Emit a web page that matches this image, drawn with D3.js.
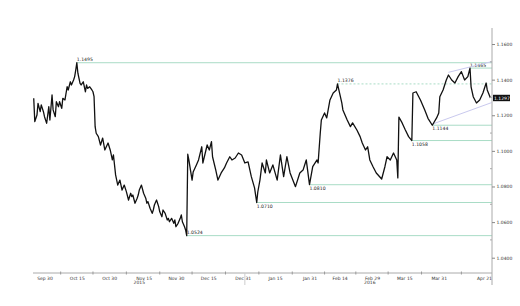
<!DOCTYPE html>
<html><head><meta charset="utf-8">
<script src="https://cdn.jsdelivr.net/npm/d3@7"></script>
<style>html,body{margin:0;padding:0;background:#fff;}svg{display:block;}</style>
</head><body>
<svg id="c" width="520" height="306"></svg>
<script>
const times = ["2015-09-25 00","2015-09-25 12","2015-09-26 12","2015-09-27 00","2015-09-28 00","2015-09-28 12","2015-09-29 12","2015-09-30 00","2015-10-01 00","2015-10-02 00","2015-10-02 12","2015-10-03 12","2015-10-04 00","2015-10-05 00","2015-10-05 12","2015-10-06 12","2015-10-07 00","2015-10-08 00","2015-10-08 12","2015-10-09 12","2015-10-10 12","2015-10-11 00","2015-10-12 00","2015-10-12 12","2015-10-13 12","2015-10-14 00","2015-10-14 12","2015-10-15 00","2015-10-15 12","2015-10-16 12","2015-10-17 00","2015-10-18 00","2015-10-19 00","2015-10-19 12","2015-10-20 00","2015-10-21 00","2015-10-22 00","2015-10-22 12","2015-10-23 00","2015-10-23 12","2015-10-24 00","2015-10-25 00","2015-10-26 00","2015-10-27 00","2015-10-28 00","2015-10-29 12","2015-10-30 12","2015-10-31 12","2015-11-01 00","2015-11-02 00","2015-11-03 00","2015-11-04 00","2015-11-05 00","2015-11-06 00","2015-11-07 00","2015-11-08 00","2015-11-09 00","2015-11-09 12","2015-11-10 00","2015-11-11 00","2015-11-12 00","2015-11-12 12","2015-11-13 00","2015-11-14 00","2015-11-15 00","2015-11-16 00","2015-11-16 12","2015-11-17 00","2015-11-18 00","2015-11-19 00","2015-11-19 12","2015-11-20 00","2015-11-21 00","2015-11-22 00","2015-11-22 12","2015-11-23 12","2015-11-24 00","2015-11-25 00","2015-11-26 00","2015-11-26 12","2015-11-27 00","2015-11-28 00","2015-11-29 00","2015-11-29 12","2015-11-30 00","2015-12-01 00","2015-12-02 00","2015-12-02 12","2015-12-03 00","2015-12-04 00","2015-12-04 12","2015-12-05 00","2015-12-05 12","2015-12-06 00","2015-12-07 12","2015-12-08 00","2015-12-09 12","2015-12-10 12","2015-12-12 00","2015-12-12 12","2015-12-14 12","2015-12-15 12","2015-12-16 12","2015-12-17 00","2015-12-18 12","2015-12-19 12","2015-12-21 00","2015-12-22 12","2015-12-23 12","2015-12-25 00","2015-12-26 00","2015-12-27 12","2015-12-29 00","2015-12-30 12","2016-01-01 00","2016-01-02 12","2016-01-04 00","2016-01-05 12","2016-01-06 12","2016-01-07 00","2016-01-08 00","2016-01-09 00","2016-01-10 12","2016-01-11 00","2016-01-12 12","2016-01-14 00","2016-01-16 00","2016-01-17 12","2016-01-19 00","2016-01-20 12","2016-01-22 00","2016-01-24 12","2016-01-26 12","2016-01-28 00","2016-01-29 12","2016-01-31 00","2016-02-01 12","2016-02-03 12","2016-02-04 00","2016-02-05 00","2016-02-05 12","2016-02-07 00","2016-02-08 00","2016-02-09 12","2016-02-11 00","2016-02-12 12","2016-02-13 00","2016-02-15 00","2016-02-15 12","2016-02-17 12","2016-02-19 00","2016-02-20 00","2016-02-22 00","2016-02-23 12","2016-02-24 12","2016-02-26 00","2016-02-27 00","2016-02-28 00","2016-02-29 12","2016-03-02 00","2016-03-04 12","2016-03-06 00","2016-03-07 00","2016-03-08 12","2016-03-10 00","2016-03-11 12","2016-03-12 00","2016-03-12 12","2016-03-14 00","2016-03-15 12","2016-03-17 00","2016-03-18 12","2016-03-19 00","2016-03-20 12","2016-03-22 12","2016-03-24 12","2016-03-26 00","2016-03-28 00","2016-03-30 00","2016-03-31 00","2016-03-31 12","2016-04-02 00","2016-04-03 12","2016-04-04 12","2016-04-06 00","2016-04-07 12","2016-04-09 00","2016-04-10 12","2016-04-12 00","2016-04-13 12","2016-04-14 12","2016-04-15 00","2016-04-16 00","2016-04-17 12","2016-04-19 00","2016-04-20 12","2016-04-22 00","2016-04-22 12","2016-04-24 00"];
const prices = [1.1295,1.1164,1.1201,1.1267,1.1220,1.1258,1.1220,1.1192,1.1155,1.1248,1.1173,1.1314,1.1230,1.1192,1.1276,1.1248,1.1276,1.1239,1.1295,1.1286,1.1360,1.1342,1.1388,1.1370,1.1398,1.1417,1.1454,1.1495,1.1436,1.1379,1.1370,1.1388,1.1332,1.1370,1.1351,1.1360,1.1342,1.1332,1.1304,1.1136,1.1099,1.1080,1.1033,1.1072,1.1005,1.1044,1.1005,1.0949,1.0977,1.0865,1.0808,1.0836,1.0780,1.0808,1.0771,1.0724,1.0762,1.0743,1.0752,1.0706,1.0734,1.0752,1.0780,1.0808,1.0762,1.0734,1.0706,1.0715,1.0678,1.0649,1.0668,1.0696,1.0724,1.0687,1.0658,1.0630,1.0668,1.0649,1.0612,1.0621,1.0602,1.0621,1.0593,1.0612,1.0574,1.0593,1.0621,1.0640,1.0602,1.0574,1.0556,1.0524,1.0981,1.0949,1.0836,1.0881,1.0921,1.0949,1.1023,1.0932,1.1033,1.1005,1.1052,1.0967,1.0892,1.0836,1.0876,1.0904,1.0932,1.0967,1.0949,1.0960,1.0988,1.0977,1.0932,1.0938,1.0855,1.0792,1.0710,1.0769,1.0836,1.0932,1.0876,1.0949,1.0876,1.0921,1.0836,1.0977,1.0855,1.0967,1.0876,1.0799,1.0876,1.0892,1.0949,1.0810,1.0911,1.0949,1.0932,1.1100,1.1173,1.1213,1.1185,1.1286,1.1325,1.1342,1.1376,1.1269,1.1230,1.1173,1.1136,1.1157,1.1117,1.1080,1.1044,1.1005,1.1023,1.0949,1.0911,1.0876,1.0842,1.0911,1.0967,1.0949,1.0988,1.0949,1.0848,1.1190,1.1157,1.1117,1.1080,1.1058,1.1325,1.1332,1.1286,1.1229,1.1183,1.1144,1.1185,1.1213,1.1304,1.1342,1.1398,1.1426,1.1398,1.1381,1.1417,1.1445,1.1398,1.1417,1.1465,1.1360,1.1304,1.1269,1.1286,1.1325,1.1381,1.1342,1.1297];

// support / resistance levels
const levelValues = [1.1495, 1.1465, 1.1376, 1.1144, 1.1058, 1.0810, 1.0710, 1.0524];
const levelStarts = ["2015-10-15 00","2016-04-14 12","2016-02-13 00","2016-03-28 00","2016-03-18 12","2016-01-31 00","2016-01-06 12","2015-12-05 00"];
const levelLabelBelow = [false, false, false, true, true, true, true, false];
const levelDashed = [false, false, true, false, false, false, false, false];

// channel lines
const channelUpper = [["2016-04-04 12", 1.1441], ["2016-04-24 12", 1.1501]];
const channelLower = [["2016-03-28 00", 1.1150], ["2016-04-24 12", 1.1271]];

const yTicks = [1.04, 1.06, 1.08, 1.10, 1.12, 1.14, 1.16];
const yMinorTicks = [1.05, 1.07, 1.09, 1.11, 1.13, 1.15];
const xTickDates = ["2015-09-30","2015-10-15","2015-10-30","2015-11-15","2015-11-30","2015-12-15","2015-12-31","2016-01-15","2016-01-31","2016-02-14","2016-02-29","2016-03-15","2016-03-31","2016-04-21"];
const xTickLabels = ["Sep 30","Oct 15","Oct 30","Nov 15","Nov 30","Dec 15","Dec 31","Jan 15","Jan 31","Feb 14","Feb 29","Mar 15","Mar 31","Apr 21"];
const yearLabels = ["2015","2016"];
const yearLabelDates = ["2015-11-13","2016-02-28"];

const pT = d3.timeParse("%Y-%m-%d %H");
const pD = d3.timeParse("%Y-%m-%d");
const data = times.map((t,i)=>({t:pT(t), v:prices[i]}));

const svg = d3.select("#c");
const x = d3.scaleTime().domain([pT("2015-09-30 00"), pT("2016-04-21 00")]).range([44.5, 484]);
const y = d3.scaleLinear().domain([1.0331, 1.169]).range([270, 28]);
const axisX = 492, plotLeft = 33, axisY = 273;
const fmt = d3.format(".4f");
const font = "DejaVu Sans";

// level lines
const lv = svg.append("g");
levelValues.forEach((v,i)=>{
  const x0 = x(pT(levelStarts[i]));
  lv.append("line").attr("x1",x0).attr("x2",axisX).attr("y1",y(v)).attr("y2",y(v))
    .attr("stroke","#a9dcc6").attr("stroke-width",1)
    .attr("stroke-dasharray", levelDashed[i] ? "2,2" : null);
  lv.append("text").attr("x",x0).attr("y", levelLabelBelow[i] ? y(v)+5 : y(v)-1.5)
    .attr("font-family",font).attr("font-size",4.6).attr("fill","#222").text(fmt(v));
});

// channel lines
const chLine = d3.line().x(d=>x(pT(d[0]))).y(d=>y(d[1]));
[channelUpper, channelLower].forEach(c=>{
  svg.append("path").attr("d",chLine(c)).attr("fill","none").attr("stroke","#c9c9ee").attr("stroke-width",1);
});

// price line
svg.append("path").datum(data)
  .attr("d", d3.line().x(d=>x(d.t)).y(d=>y(d.v)))
  .attr("fill","none").attr("stroke","#111").attr("stroke-width",1.3).attr("stroke-linejoin","round");

// right axis
svg.append("line").attr("x1",axisX).attr("x2",axisX).attr("y1",28).attr("y2",285).attr("stroke","#aaa").attr("stroke-width",1);
const ya = svg.append("g").attr("transform",`translate(${axisX},0)`)
  .call(d3.axisRight(y).tickValues(yTicks).tickSize(3).tickPadding(1.5).tickFormat(fmt));
ya.select(".domain").remove();
ya.selectAll("line").attr("stroke","#888");
ya.selectAll("text").attr("font-family",font).attr("font-size",4.5).attr("fill","#333");
svg.append("g").selectAll("line").data(yMinorTicks).join("line")
  .attr("x1",axisX-2).attr("x2",axisX).attr("y1",d=>y(d)).attr("y2",d=>y(d)).attr("stroke","#aaa");

// current price box
const last = data[data.length-1];
svg.append("rect").attr("x",axisX+1).attr("y",y(last.v)-3.2).attr("width",17).attr("height",6.4).attr("fill","#111");
svg.append("text").attr("x",axisX+2).attr("y",y(last.v)+1.6).attr("font-family",font).attr("font-size",4.5).attr("fill","#fff").text(fmt(last.v));

// bottom axis
svg.append("line").attr("x1",plotLeft).attr("x2",axisX).attr("y1",axisY).attr("y2",axisY).attr("stroke","#aaa").attr("stroke-width",1);
const xd = xTickDates.map(pD);
const xa = svg.append("g").attr("transform",`translate(0,${axisY})`)
  .call(d3.axisBottom(x).tickValues(xd).tickSize(0).tickPadding(3.5).tickFormat((d,i)=>xTickLabels[i]));
xa.select(".domain").remove();
xa.selectAll("text").attr("font-family",font).attr("font-size",4.5).attr("fill","#333");
const mids = xd.slice(0,-1).map((d,i)=>new Date((+d + +xd[i+1])/2));
svg.append("g").selectAll("line").data(mids).join("line")
  .attr("x1",d=>x(d)).attr("x2",d=>x(d)).attr("y1",axisY-1.5).attr("y2",axisY+1.5).attr("stroke","#999");
svg.append("g").selectAll("text").data(yearLabels).join("text")
  .attr("x",(d,i)=>x(pD(yearLabelDates[i]))).attr("y",axisY+11).attr("text-anchor","middle")
  .attr("font-family",font).attr("font-size",4.5).attr("fill","#333").text(d=>d);
svg.append("line").attr("x1",x(pD("2016-01-01"))).attr("x2",x(pD("2016-01-01"))).attr("y1",axisY).attr("y2",axisY+12).attr("stroke","#ccc");
</script>
</body></html>
